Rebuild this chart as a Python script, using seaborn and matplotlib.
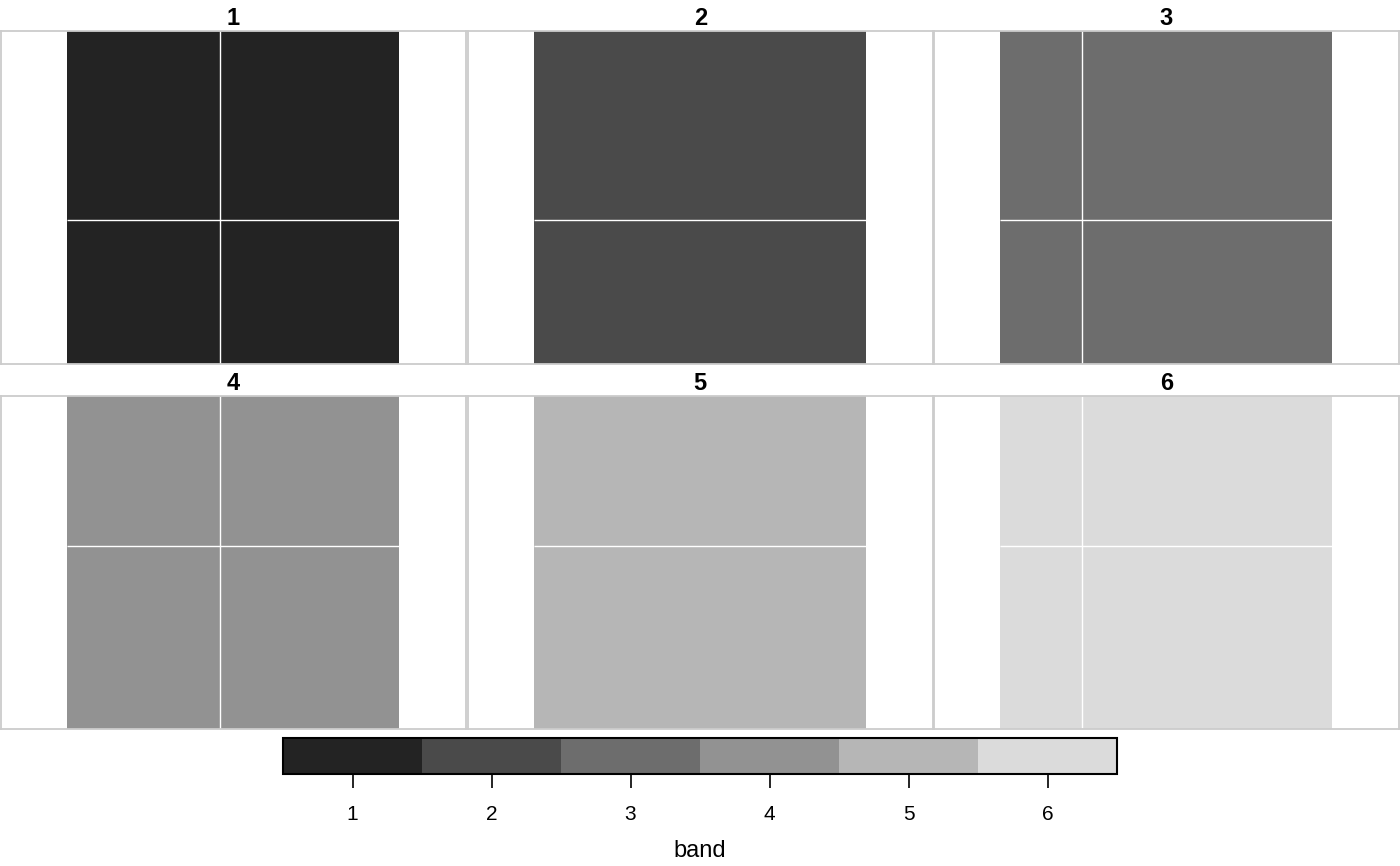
import numpy as np
import matplotlib
matplotlib.use("Agg")
import matplotlib.pyplot as plt
from matplotlib.colors import ListedColormap
import seaborn as sns

sns.set_style("white")
plt.rcParams['font.family'] = ['Liberation Sans', 'DejaVu Sans']
plt.rcParams['text.color'] = 'black'
plt.rcParams['axes.labelcolor'] = 'black'
plt.rcParams['xtick.color'] = 'black'

# raster value per facet and grey palette of the legend
bands = [1, 2, 3, 4, 5, 6]
band_colors = ['#232323', '#4a4a4a', '#6d6d6d', '#929292', '#b6b6b6', '#dbdbdb']

# graticule lines (fraction of raster extent) per facet column / row
grid_x_by_col = [[0.461], [], [0.247]]
grid_y_by_row = [[0.568], [0.451]]

cmap = ListedColormap(band_colors)

fig = plt.figure(figsize=(14, 8.66), dpi=100)
W, H = 1400, 866

col_left = [0, 467, 933]
row_top = [31, 396]
panel_w, panel_h = 466, 333
rast_left, rast_w = 67, 332

mesh = None
for i, b in enumerate(bands):
    r, c = divmod(i, 3)
    ax = fig.add_axes([col_left[c] / W + 0.0004, (H - row_top[r] - panel_h) / H,
                       panel_w / W - 0.0004, panel_h / H])
    sns.heatmap(np.array([[b]]), cmap=cmap, vmin=0.5, vmax=6.5, cbar=False,
                ax=ax, xticklabels=False, yticklabels=False)
    mesh = ax.collections[0]
    ax.set_xlim(-rast_left / rast_w, 1 + (panel_w - rast_left - rast_w) / rast_w)
    ax.set_ylim(1, 0)
    for gx in grid_x_by_col[c]:
        ax.vlines(gx, 0, 1, color='white', lw=1)
    for gy in grid_y_by_row[r]:
        ax.hlines(gy, 0, 1, color='white', lw=1)
    for s in ax.spines.values():
        s.set_visible(True)
        s.set_color('#cccccc')
        s.set_linewidth(1.3)
    ax.set_xticks([])
    ax.set_yticks([])
    ax.set_title(str(b), fontsize=17, fontweight='bold', pad=4, color='black')

cax = fig.add_axes([283 / W, (H - 774) / H, 834 / W, 36 / H])
cb = fig.colorbar(mesh, cax=cax, orientation='horizontal', ticks=bands)
cb.outline.set_edgecolor('black')
cb.outline.set_linewidth(1.5)
cax.tick_params(axis='x', length=10, width=1.2, color='black', pad=12,
                labelsize=15, labelcolor='black', direction='out', bottom=True)
cax.set_xlabel('band', fontsize=17, labelpad=12, color='black')

fig.savefig('out.png', dpi=100)
